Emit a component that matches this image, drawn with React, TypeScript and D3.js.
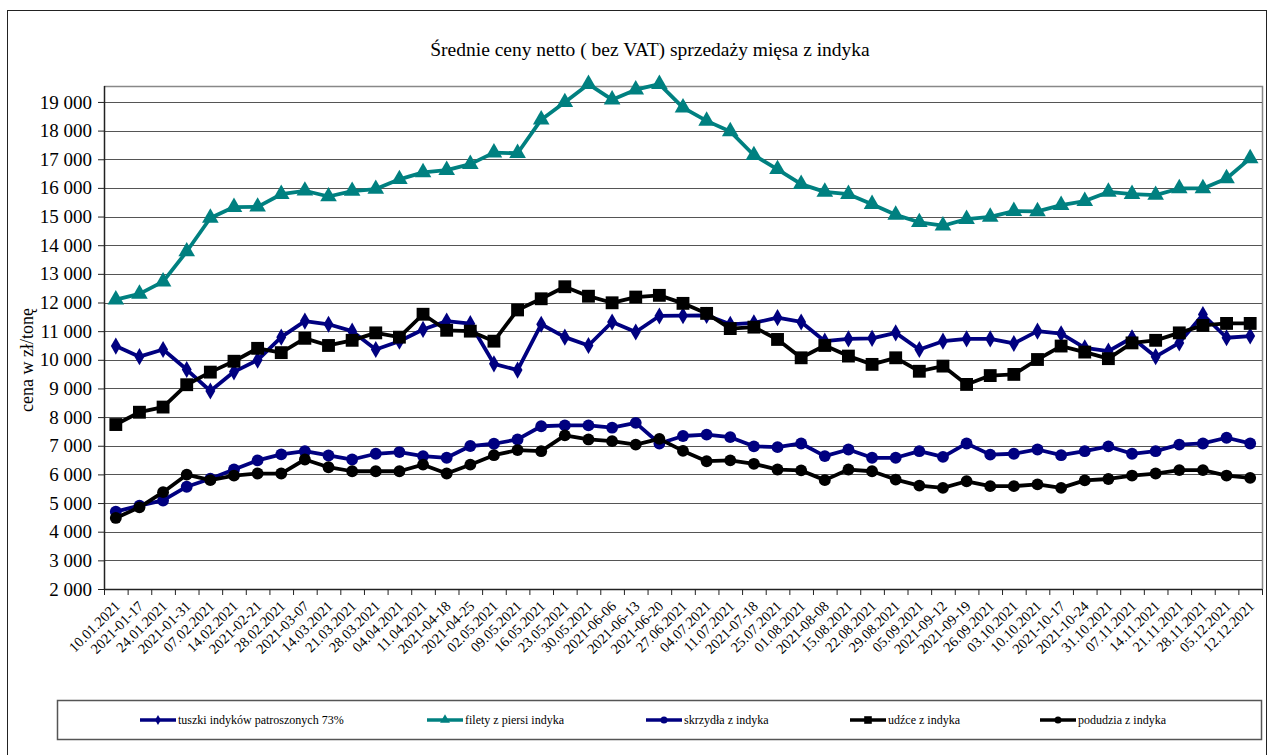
import React, { useEffect, useRef } from "react";
import * as d3 from "d3";

const dates = [
  "10.01.2021", "2021-01-17", "24.01.2021", "2021-01-31", "07.02.2021", "14.02.2021", "2021-02-21",
  "28.02.2021", "2021-03-07", "14.03.2021", "21.03.2021", "28.03.2021", "04.04.2021", "11.04.2021",
  "2021-04-18", "2021-04-25", "02.05.2021", "09.05.2021", "16.05.2021", "23.05.2021", "30.05.2021",
  "2021-06-06", "2021-06-13", "2021-06-20", "27.06.2021", "04.07.2021", "11.07.2021", "2021-07-18",
  "25.07.2021", "01.08.2021", "2021-08-08", "15.08.2021", "22.08.2021", "29.08.2021", "05.09.2021",
  "2021-09-12", "2021-09-19", "26.09.2021", "03.10.2021", "10.10.2021", "2021-10-17", "2021-10-24",
  "31.10.2021", "07.11.2021", "14.11.2021", "21.11.2021", "28.11.2021", "05.12.2021", "12.12.2021",
];

const tuszki = [
  10480, 10110, 10360, 9660, 8910, 9580, 9990, 10790, 11350, 11240,
  11000, 10360, 10650, 11060, 11350, 11260, 9860, 9640, 11240, 10790,
  10500, 11320, 10970, 11530, 11540, 11550, 11240, 11290, 11470, 11320,
  10650, 10730, 10750, 10940, 10360, 10650, 10730, 10730, 10570, 11000,
  10910, 10420, 10300, 10770, 10110, 10590, 11580, 10770, 10830,
];

const filety = [
  12100, 12300, 12730, 13780, 14950, 15330, 15340, 15780, 15900, 15700,
  15890, 15960, 16300, 16540, 16620, 16830, 17230, 17210, 18380, 18990,
  19620, 19080, 19430, 19620, 18800, 18340, 17970, 17140, 16650, 16130,
  15860, 15780, 15430, 15060, 14800, 14680, 14910, 14990, 15190, 15180,
  15400, 15540, 15860, 15780, 15750, 15980, 15980, 16330, 17030,
];

const skrzydla = [
  4700, 4910, 5090, 5570, 5850, 6170, 6490, 6700, 6810, 6660,
  6520, 6720, 6780, 6640, 6580, 6990, 7070, 7220, 7680, 7710,
  7710, 7630, 7800, 7080, 7340, 7390, 7300, 6980, 6950, 7080,
  6640, 6870, 6580, 6580, 6810, 6610, 7080, 6690, 6720, 6870,
  6670, 6810, 6980, 6720, 6810, 7040, 7080, 7280, 7080,
];

const udzce = [
  7740, 8170, 8350, 9130, 9570, 9950, 10400, 10250, 10750, 10500,
  10680, 10940, 10790, 11590, 11030, 11000, 10650, 11740, 12130, 12550,
  12220, 11990, 12190, 12250, 11970, 11620, 11090, 11140, 10710, 10070,
  10500, 10130, 9840, 10070, 9600, 9780, 9140, 9450, 9490, 10010,
  10480, 10270, 10040, 10590, 10680, 10940, 11200, 11270, 11270,
];

const podudzia = [
  4480, 4850, 5380, 5990, 5800, 5960, 6030, 6030, 6520, 6250,
  6110, 6110, 6110, 6340, 6030, 6340, 6670, 6850, 6810, 7360,
  7220, 7160, 7040, 7240, 6820, 6460, 6490, 6370, 6170, 6140,
  5800, 6170, 6110, 5820, 5610, 5530, 5760, 5590, 5590, 5650,
  5530, 5790, 5840, 5960, 6030, 6150, 6150, 5960, 5880,
];

const yTicks = d3.range(2000, 19001, 1000);

const series = [
  { name: "tuszki indyków patroszonych 73%", values: tuszki, color: "#000080", symbol: d3.symbolDiamond, size: 85 },
  { name: "filety z piersi indyka", values: filety, color: "#008080", symbol: d3.symbolTriangle, size: 120 },
  { name: "skrzydła z indyka", values: skrzydla, color: "#000080", symbol: d3.symbolCircle, size: 110 },
  { name: "udźce z indyka", values: udzce, color: "#000000", symbol: d3.symbolSquare, size: 165 },
  { name: "podudzia z indyka", values: podudzia, color: "#000000", symbol: d3.symbolCircle, size: 110 },
];

const legendX = [140, 427, 646, 850, 1040];

export default function App() {
  const ref = useRef(null);

  useEffect(() => {
    const width = 1271;
    const height = 755;
    const left = 104;
    const right = 1262;
    const top = 86;
    const bottom = 589;
    const font = "Liberation Serif, Times New Roman, serif";

    const svg = d3.select(ref.current);
    svg.selectAll("*").remove();
    svg.attr("width", width).attr("height", height).style("font-family", font);

    svg.append("rect").attr("width", width).attr("height", height).attr("fill", "#fff");
    // outer chart border
    svg
      .append("rect")
      .attr("x", 7.5)
      .attr("y", 10.5)
      .attr("width", 1259)
      .attr("height", 760)
      .attr("fill", "none")
      .attr("stroke", "#222");

    svg
      .append("text")
      .attr("x", 650)
      .attr("y", 56)
      .attr("text-anchor", "middle")
      .attr("font-size", 19.5)
      .text("Średnie ceny netto ( bez VAT) sprzedaży mięsa z indyka");

    const x = d3.scaleBand<string>().domain(dates).range([left, right]);
    const y = d3.scaleLinear().domain([2000, 19000]).range([bottom, bottom - 17 * 28.65]);

    // plot border (top and right)
    svg
      .append("path")
      .attr("d", `M${left},${top + 0.5}H${right + 0.5}V${bottom}`)
      .attr("fill", "none")
      .attr("stroke", "#888")
      .attr("stroke-width", 1.5);

    // grid
    svg
      .append("g")
      .selectAll("line")
      .data(yTicks.slice(1))
      .join("line")
      .attr("x1", left)
      .attr("x2", right)
      .attr("y1", (d) => Math.round(y(d)) + 0.5)
      .attr("y2", (d) => Math.round(y(d)) + 0.5)
      .attr("stroke", "#555")
      .attr("stroke-width", 1.2);

    // y axis
    const yAxis = svg
      .append("g")
      .attr("transform", `translate(${left},0)`)
      .call(
        d3
          .axisLeft(y)
          .tickValues(yTicks)
          .tickSize(6)
          .tickPadding(6)
          .tickFormat((d) => d3.format(",")(d as number).replace(",", " "))
      );
    yAxis.attr("font-family", null);
    yAxis.select(".domain").attr("stroke", "#222").attr("stroke-width", 1.5).attr("d", `M0.5,${top}V${bottom}`);
    yAxis.selectAll(".tick line").attr("stroke", "#222");
    yAxis.selectAll("text").attr("font-size", 19).attr("fill", "#000");

    svg
      .append("text")
      .attr("transform", `translate(33,360) rotate(-90)`)
      .attr("text-anchor", "middle")
      .attr("font-size", 18)
      .text("cena w zł/tonę");

    // x axis
    const xAxis = svg.append("g").attr("transform", `translate(0,${bottom})`);
    xAxis
      .append("line")
      .attr("x1", left)
      .attr("x2", right)
      .attr("y1", 0.5)
      .attr("y2", 0.5)
      .attr("stroke", "#222")
      .attr("stroke-width", 1.5);
    xAxis
      .selectAll("line.tk")
      .data(dates.concat(["end"]))
      .join("line")
      .attr("class", "tk")
      .attr("x1", (d, i) => left + i * x.bandwidth() + 0.5)
      .attr("x2", (d, i) => left + i * x.bandwidth() + 0.5)
      .attr("y1", 0)
      .attr("y2", 6)
      .attr("stroke", "#222");
    xAxis
      .selectAll("text")
      .data(dates)
      .join("text")
      .attr("transform", (d) => `translate(${(x(d) ?? 0) + x.bandwidth() / 2 + 5},${18}) rotate(-45)`)
      .attr("text-anchor", "end")
      .attr("font-size", 14.5)
      .text((d) => d);

    const cx = (i: number) => (x(dates[i]) ?? 0) + x.bandwidth() / 2;

    series.forEach((s) => {
      const line = d3
        .line<number>()
        .x((d, i) => cx(i))
        .y((d) => y(d));
      svg
        .append("path")
        .attr("fill", "none")
        .attr("stroke", s.color)
        .attr("stroke-width", 3.8)
        .attr("stroke-linejoin", "round")
        .attr("d", line(s.values));
      svg
        .append("g")
        .selectAll("path")
        .data(s.values)
        .join("path")
        .attr("transform", (d, i) => `translate(${cx(i)},${y(d)})`)
        .attr("d", d3.symbol().type(s.symbol).size(s.size)())
        .attr("fill", s.color);
    });

    // legend
    svg
      .append("rect")
      .attr("x", 57.5)
      .attr("y", 700.5)
      .attr("width", 1204)
      .attr("height", 39)
      .attr("fill", "none")
      .attr("stroke", "#555")
      .attr("stroke-width", 1.5);

    const legend = svg
      .append("g")
      .selectAll("g")
      .data(series)
      .join("g")
      .attr("transform", (d, i) => `translate(${legendX[i]},720)`);
    legend
      .append("line")
      .attr("x1", 0)
      .attr("x2", 36)
      .attr("stroke", (d) => d.color)
      .attr("stroke-width", 3.5);
    legend
      .append("path")
      .attr("transform", "translate(18,0)")
      .attr("d", (d) => d3.symbol().type(d.symbol).size(d.size * 0.35)())
      .attr("fill", (d) => d.color);
    legend
      .append("text")
      .attr("x", 38)
      .attr("y", 4)
      .attr("font-size", 12)
      .text((d) => d.name);
  }, []);

  return <svg ref={ref} style={{ position: "absolute", left: 0, top: 0 }} />;
}
